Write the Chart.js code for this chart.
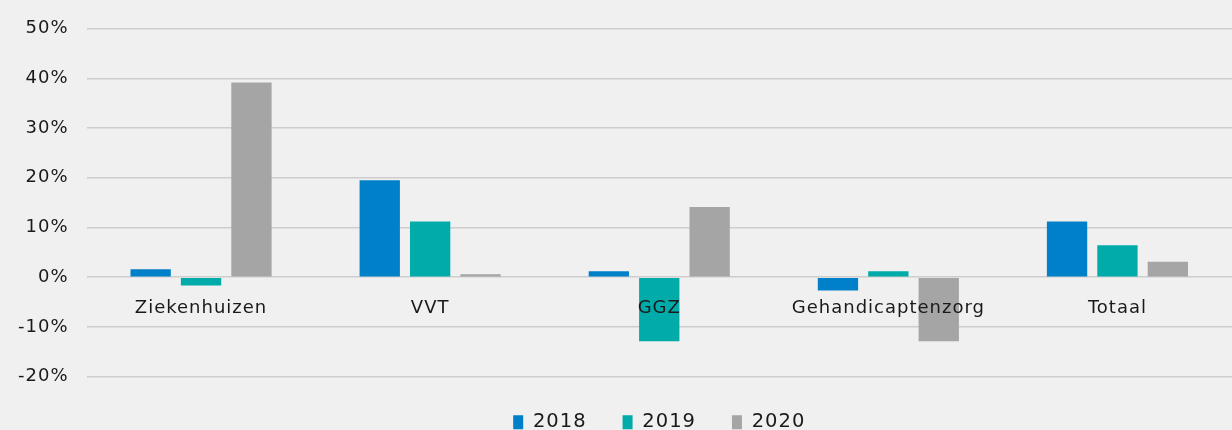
<!DOCTYPE html>
<html>
<head>
<meta charset="utf-8">
<script src="https://cdn.jsdelivr.net/npm/chart.js@4/dist/chart.umd.min.js"></script>
<style>
  html, body { margin: 0; padding: 0; background: #f0f0f0; }
  #wrap { width: 1232px; height: 430px; position: relative; }
</style>
</head>
<body>
<div id="wrap"><canvas id="chart"></canvas></div>
<script>
const categories = ["Ziekenhuizen", "VVT", "GGZ", "Gehandicaptenzorg", "Totaal"];
const seriesLabels = ["2018", "2019", "2020"];
const values2018 = [1.6, 19.5, 1.2, -2.7, 11.2];
const values2019 = [-1.7, 11.2, -12.9, 1.2, 6.4];
const values2020 = [39.2, 0.6, 14.1, -12.9, 3.1];
const seriesColors = ["#0080c9", "#00aba9", "#a5a5a5"];
const yTicks = [-20, -10, 0, 10, 20, 30, 40, 50];

const fontFamily = "'DejaVu Sans', sans-serif";
const textColor = "#1a1a1a";

// the reference type is tracked a little, canvas can do that itself
const letterSpacing = {
  id: 'letterSpacing',
  beforeLayout: function (chart) { chart.ctx.letterSpacing = '1px'; },
  beforeDraw: function (chart) { chart.ctx.letterSpacing = '1px'; }
};

let ctx = document.getElementById("chart").getContext("2d");

new Chart(ctx, {
  type: 'bar',
  plugins: [letterSpacing],
  data: {
    labels: categories,
    datasets: [values2018, values2019, values2020].map(function (vals, i) {
      return {
        label: seriesLabels[i],
        data: vals,
        backgroundColor: seriesColors[i],
        borderWidth: 0,
        barPercentage: 0.8,
        categoryPercentage: 0.66
      };
    })
  },
  options: {
    responsive: true,
    maintainAspectRatio: false,
    animation: false,
    layout: { padding: { top: 18, right: 0, left: 0, bottom: -12 } },
    plugins: {
      legend: {
        position: 'bottom',
        fullSize: false,
        labels: {
          color: textColor,
          font: { family: fontFamily, size: 19.5 },
          boxWidth: 10,
          boxHeight: 14,
          padding: 36
        }
      },
      tooltip: { enabled: false }
    },
    scales: {
      x: {
        position: { y: 0 },
        grid: { display: false },
        border: { display: false },
        ticks: {
          z: 1,
          color: textColor,
          font: { family: fontFamily, size: 18 },
          padding: 12,
          maxRotation: 0
        }
      },
      y: {
        min: -20,
        max: 50,
        afterBuildTicks: function (axis) {
          axis.ticks = yTicks.map(function (v) { return { value: v }; });
        },
        grid: { color: '#cdcdcd', lineWidth: 1.5, drawTicks: false },
        border: { display: false },
        ticks: {
          color: textColor,
          font: { family: fontFamily, size: 18 },
          padding: 18,
          callback: function (v) { return v + '%'; }
        }
      }
    }
  }
});
</script>
</body>
</html>
